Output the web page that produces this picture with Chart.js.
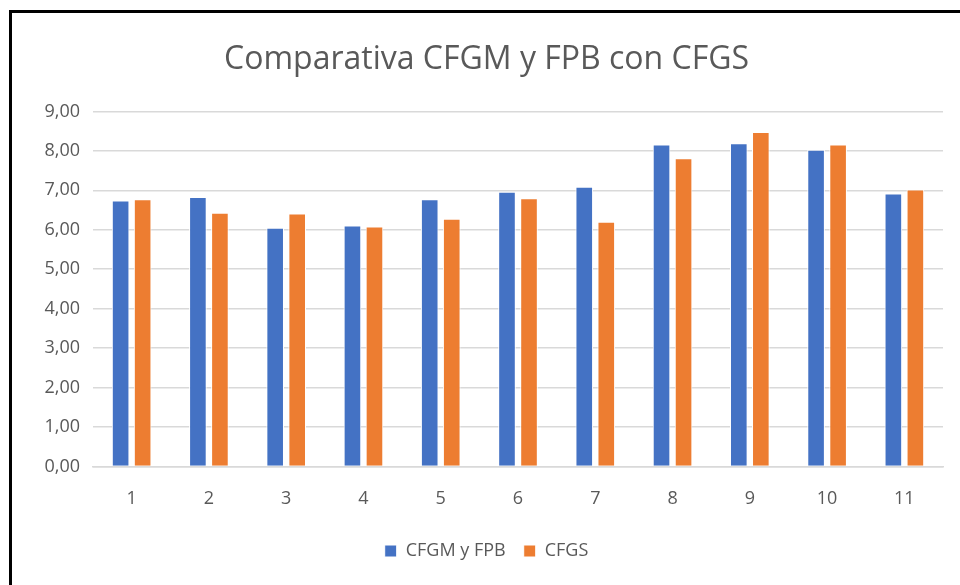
<!DOCTYPE html>
<html>
<head>
<meta charset="utf-8">
<script src="https://cdn.jsdelivr.net/npm/chart.js@4.4.0/dist/chart.umd.min.js"></script>
<style>
  body { margin: 0; background: #fff; }
  #frame { position: absolute; left: 9px; top: 10px; width: 960px; height: 600px;
           border-left: 3px solid #000; border-top: 3px solid #000; }
  #wrap { position: absolute; left: 0; top: 0; width: 960px; height: 585px; }
</style>
</head>
<body>
<div id="frame"></div>
<div id="wrap"><canvas id="chart" width="960" height="585"></canvas></div>
<script>
// data
const categories = ["1", "2", "3", "4", "5", "6", "7", "8", "9", "10", "11"];
const cfgmFpb = [6.74, 6.83, 6.05, 6.11, 6.77, 6.96, 7.09, 8.16, 8.19, 8.03, 6.92];
const cfgs = [6.77, 6.43, 6.41, 6.08, 6.28, 6.80, 6.20, 7.81, 8.48, 8.16, 7.02];
const seriesNames = ["CFGM y FPB", "CFGS"];

const grey = "#595959";
const font = "'Open Sans', 'Liberation Sans', sans-serif";

function comma(v) {
  return v.toFixed(2).replace(".", ",");
}

new Chart(document.getElementById("chart"), {
  type: "bar",
  data: {
    labels: categories,
    datasets: [
      { label: seriesNames[0], data: cfgmFpb, backgroundColor: "#4472c4",
        borderColor: "#ffffff", borderWidth: 1 },
      { label: seriesNames[1], data: cfgs, backgroundColor: "#ed7d31",
        borderColor: "#ffffff", borderWidth: 1 }
    ]
  },
  options: {
    responsive: false,
    animation: false,
    datasets: { bar: { barPercentage: 0.8, categoryPercentage: 0.57 } },
    layout: { padding: { left: 30, right: 17, top: 0, bottom: 15 } },
    plugins: {
      title: {
        display: true,
        text: "Comparativa CFGM y FPB con CFGS",
        color: grey,
        font: { family: font, size: 32, weight: "normal" },
        padding: { top: 41, bottom: 32 }
      },
      legend: {
        position: "bottom",
        labels: {
          color: grey,
          font: { family: font, size: 18 },
          boxWidth: 12, boxHeight: 12,
          padding: 18
        }
      },
      tooltip: { enabled: false }
    },
    scales: {
      x: {
        grid: { display: false },
        border: { color: "#d9d9d9", width: 1.5 },
        ticks: { color: grey, font: { family: font, size: 18 }, padding: 14 }
      },
      y: {
        min: 0, max: 9,
        ticks: { stepSize: 1, color: grey, font: { family: font, size: 18 },
                 padding: 13, callback: v => comma(v) },
        grid: { color: "#d9d9d9", lineWidth: 1.5, drawTicks: false },
        border: { display: false },
        afterFit: s => { s.width = 63; }
      }
    }
  }
});
</script>
</body>
</html>
